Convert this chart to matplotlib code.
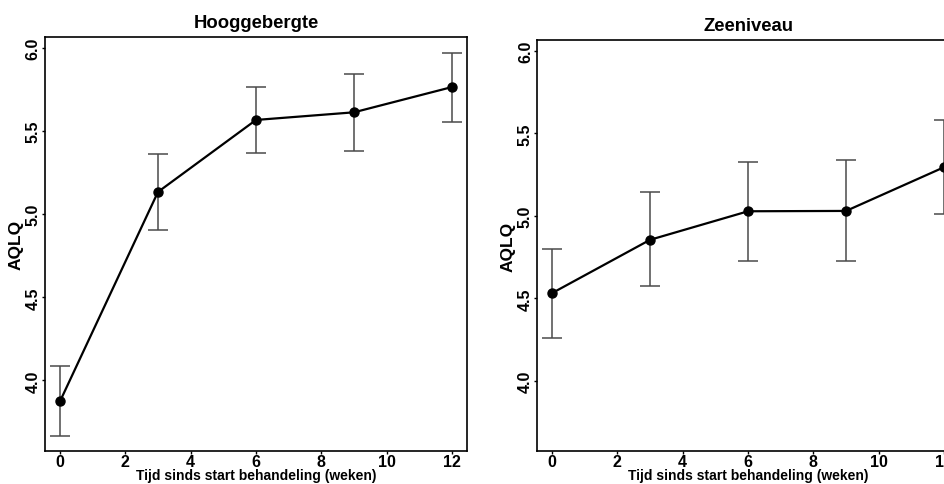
import matplotlib
matplotlib.use("Agg")
import matplotlib.pyplot as plt

# ----------------------------
# data
# ----------------------------
weeks = [0, 3, 6, 9, 12]

hoog_mean = [3.874, 5.134, 5.567, 5.613, 5.765]
hoog_upper = [4.084, 5.364, 5.765, 5.844, 5.972]
hoog_lower = [3.665, 4.904, 5.367, 5.381, 5.557]

zee_mean = [4.532, 4.855, 5.028, 5.030, 5.295]
zee_upper = [4.801, 5.143, 5.327, 5.337, 5.580]
zee_lower = [4.259, 4.574, 4.727, 4.727, 5.014]

titles = ["Hooggebergte", "Zeeniveau"]
xticks = [0, 2, 4, 6, 8, 10, 12]
yticks = [4.0, 4.5, 5.0, 5.5, 6.0]

plt.rcParams['font.family'] = ['Liberation Sans', 'DejaVu Sans']

fig = plt.figure(figsize=(9.45, 4.85), dpi=100)
ax1 = fig.add_axes([0.0476, 0.068, 0.4466, 0.8536])
ax2 = fig.add_axes([0.5683, 0.068, 0.4466, 0.8475])


def draw_panel(ax, mean, upper, lower, title):
    err = [[m - l for m, l in zip(mean, lower)],
           [u - m for m, u in zip(mean, upper)]]
    ax.errorbar(weeks, mean, yerr=err, fmt='none', ecolor='#4a4a4a',
                elinewidth=1.1, capsize=7, capthick=1.1)
    ax.plot(weeks, mean, color='black', lw=1.6, marker='o', ms=6.5,
            mfc='black', mec='black')
    ax.set_xlim(-0.46, 12.46)
    ax.set_ylim(3.575, 6.066)
    ax.set_xticks(xticks)
    ax.set_yticks(yticks)
    ax.set_yticklabels([f"{v:.1f}" for v in yticks], rotation=90, va='center')
    ax.tick_params(length=2, width=1, pad=1, labelsize=11.5)
    ax.tick_params(axis='x', pad=0.5)
    for lab in ax.get_xticklabels() + ax.get_yticklabels():
        lab.set_fontweight('bold')
    for s in ax.spines.values():
        s.set_linewidth(1.2)
    ax.set_title(title, fontsize=13.3, fontweight='bold', pad=7)
    ax.set_xlabel("Tijd sinds start behandeling (weken)", fontsize=10,
                  fontweight='bold', labelpad=-1)
    ax.set_ylabel("AQLQ", fontsize=12.5, fontweight='bold', labelpad=1.5)


draw_panel(ax1, hoog_mean, hoog_upper, hoog_lower, titles[0])
draw_panel(ax2, zee_mean, zee_upper, zee_lower, titles[1])

fig.savefig("out.png", dpi=100)
